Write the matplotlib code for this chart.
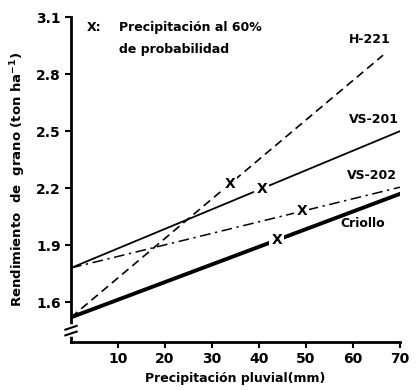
import matplotlib.pyplot as plt
from matplotlib.lines import Line2D

# precipitación (mm) y rendimiento (ton/ha) en los extremos de cada recta
variedades = ['H-221', 'VS-201', 'VS-202', 'Criollo']
x_ini = [0, 0, 0, 0]
y_ini = [1.52, 1.78, 1.78, 1.52]
x_fin = [66.4, 70, 70, 70]
y_fin = [2.90, 2.50, 2.205, 2.17]

# precipitación al 60% de probabilidad (marcas X)
x_60 = [33.8, 40.6, 49.1, 43.8]

estilos = [(0, (5, 3)), '-', (0, (7, 3, 1.5, 3)), '-']
grosores = [1.2, 1.3, 1.1, 2.8]

# posiciones de las etiquetas de cada variedad
etq_x = [63.5, 64.5, 64, 62]
etq_y = [2.985, 2.56, 2.265, 2.015]

y_ticks = [1.6, 1.9, 2.2, 2.5, 2.8, 3.1]
x_ticks = [10, 20, 30, 40, 50, 60, 70]

plt.rcParams['font.family'] = 'DejaVu Sans'
plt.rcParams['font.weight'] = 'bold'

fig = plt.figure(figsize=(4.19, 3.9), dpi=100)
ax = fig.add_axes([0.1695, 0.123, 0.7852, 0.833])

for i, nombre in enumerate(variedades):
    ax.plot([x_ini[i], x_fin[i]], [y_ini[i], y_fin[i]], color='black',
            linestyle=estilos[i], linewidth=grosores[i], zorder=2)
    pendiente = (y_fin[i] - y_ini[i]) / (x_fin[i] - x_ini[i])
    y_marca = y_ini[i] + pendiente * (x_60[i] - x_ini[i])
    ax.text(x_60[i], y_marca, 'X', ha='center', va='center', fontsize=10,
            fontweight='bold', zorder=3,
            bbox=dict(boxstyle='square,pad=0.15', fc='white', ec='none'))
    ax.text(etq_x[i], etq_y[i], nombre, ha='center', va='center',
            fontsize=9, fontweight='bold')

ax.text(3.3, 3.045, 'X:', fontsize=9, fontweight='bold', va='center')
ax.text(10.3, 3.045, 'Precipitación al 60%', fontsize=9, fontweight='bold',
        va='center')
ax.text(10.3, 2.93, 'de probabilidad', fontsize=9, fontweight='bold',
        va='center')

ax.set_xlim(0, 70)
ax.set_ylim(1.39, 3.1)
ax.set_xticks(x_ticks)
ax.set_yticks(y_ticks)
ax.set_yticklabels([f'{v:.1f}' for v in y_ticks])
ax.tick_params(labelsize=10, width=1.5, length=4)
for lbl in ax.get_xticklabels() + ax.get_yticklabels():
    lbl.set_fontweight('bold')

ax.spines['top'].set_visible(False)
ax.spines['right'].set_visible(False)
ax.spines['left'].set_linewidth(2)
ax.spines['bottom'].set_linewidth(2)

# corte del eje y
ax.add_line(Line2D([0, 0], [1.43, 1.47], color='white', linewidth=4,
                   clip_on=False, zorder=4))
ax.add_line(Line2D([-1.2, 1.2], [1.425, 1.445], color='black', linewidth=1.5,
                   clip_on=False, zorder=5))
ax.add_line(Line2D([-1.2, 1.2], [1.455, 1.475], color='black', linewidth=1.5,
                   clip_on=False, zorder=5))

ax.set_xlabel('Precipitación pluvial(mm)', fontsize=9, fontweight='bold',
              labelpad=4)
ax.set_ylabel('Rendimiento  de  grano (ton ha$^{\\mathbf{-1}}$)', fontsize=9.5,
              fontweight='bold', labelpad=6)

fig.savefig('out.png', dpi=100)
